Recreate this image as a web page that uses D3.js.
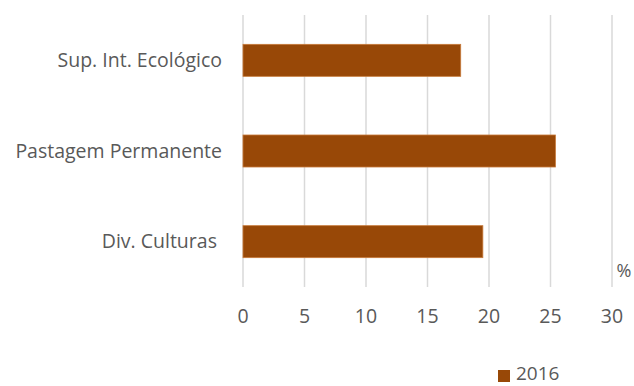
<!DOCTYPE html>
<html>
<head>
<meta charset="utf-8">
<script src="https://cdn.jsdelivr.net/npm/d3@7"></script>
<style>
  body { margin: 0; background: #fff; }
  text { font-family: "Open Sans", sans-serif; fill: #595959; }
</style>
</head>
<body>
<div id="chart"></div>
<script>
const categories = ["Sup. Int. Ecológico", "Pastagem Permanente", "Div. Culturas "];
const values2016 = [17.7, 25.4, 19.5];
const xTicks = [0, 5, 10, 15, 20, 25, 30];
const seriesName = "2016";

const W = 634, H = 386;
const barColor = "#984807";

const svg = d3.select("#chart").append("svg")
  .attr("width", W)
  .attr("height", H);

const x = d3.scaleLinear().domain([0, 30]).range([243, 612]);
const y = d3.scaleBand().domain(categories).range([15, 287]).paddingInner(0.647).paddingOuter(0.3235);

// grid lines
svg.append("g")
  .selectAll("line")
  .data(xTicks)
  .enter()
  .append("line")
  .attr("x1", (d) => x(d))
  .attr("x2", (d) => x(d))
  .attr("y1", 15)
  .attr("y2", 287)
  .attr("stroke", "#d9d9d9")
  .attr("stroke-width", 1.5);

// bars
svg.append("g")
  .selectAll("rect")
  .data(values2016)
  .enter()
  .append("rect")
  .attr("x", x(0))
  .attr("y", (d, i) => y(categories[i]))
  .attr("width", (d) => x(d) - x(0))
  .attr("height", y.bandwidth())
  .attr("fill", barColor)
  .attr("stroke", "#c77a3a")
  .attr("stroke-width", 0.8);

// category labels
svg.append("g")
  .selectAll("text")
  .data(categories)
  .enter()
  .append("text")
  .text((d) => d)
  .attr("x", 222)
  .attr("y", (d) => y(d) + y.bandwidth() / 2)
  .attr("dy", "0.35em")
  .style("text-anchor", "end")
  .style("white-space", "pre")
  .attr("font-size", 19.5);

// x tick labels
svg.append("g")
  .selectAll("text")
  .data(xTicks)
  .enter()
  .append("text")
  .text((d) => d)
  .attr("x", (d) => x(d))
  .attr("y", 316)
  .attr("dy", "0.35em")
  .style("text-anchor", "middle")
  .attr("font-size", 19.5);

// unit label
svg.append("text")
  .text("%")
  .attr("x", 624)
  .attr("y", 271)
  .attr("dy", "0.35em")
  .style("text-anchor", "middle")
  .attr("font-size", 18);

// legend
const legend = svg.append("g");
legend.append("rect")
  .attr("x", 498)
  .attr("y", 370)
  .attr("width", 12)
  .attr("height", 12)
  .attr("fill", barColor);
legend.append("text")
  .text(seriesName)
  .attr("x", 516)
  .attr("y", 380)
  .attr("font-size", 19);
</script>
</body>
</html>
